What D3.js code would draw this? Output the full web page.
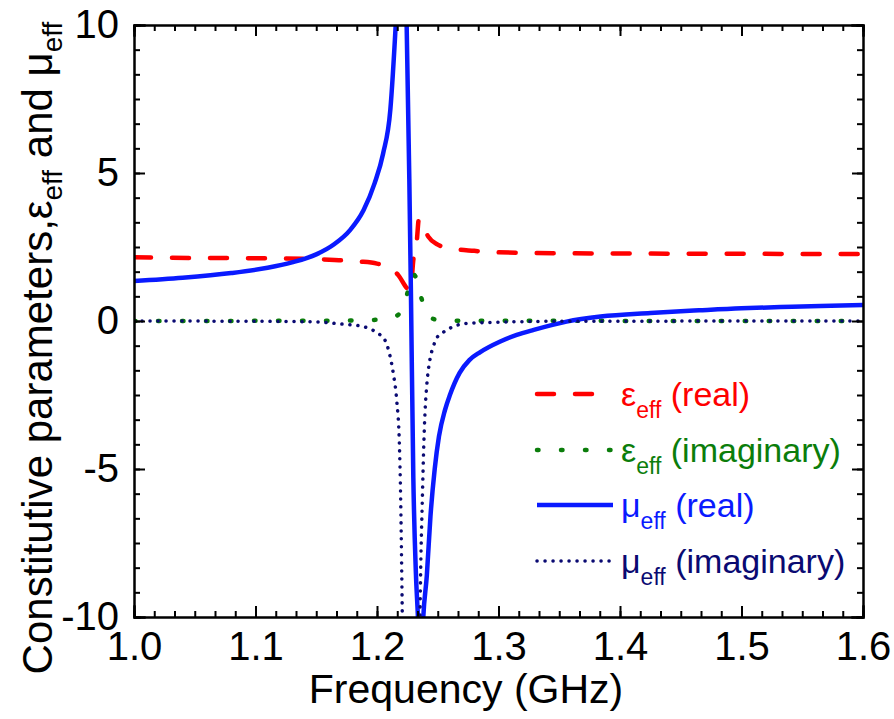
<!DOCTYPE html>
<html>
<head>
<meta charset="utf-8">
<script src="https://cdn.jsdelivr.net/npm/d3@7"></script>
<style>
  body { margin: 0; background: #fff; }
  svg { display: block; font-family: "Liberation Sans", Arial, sans-serif; }
</style>
</head>
<body>
<svg id="chart" width="894" height="719"></svg>
<script>
// values (frequency in GHz)
const muReF = [1.000, 1.040, 1.080, 1.110, 1.130, 1.150, 1.165, 1.178, 1.189, 1.198, 1.205, 1.211, 1.2154, 1.219, 1.2215, 1.2235, 1.2244, 1.2266, 1.2280, 1.2299, 1.2320, 1.2337, 1.2355, 1.2370, 1.2381, 1.2410, 1.2440, 1.2475, 1.2510, 1.2560, 1.2600, 1.2680, 1.2760, 1.2850, 1.3010, 1.3150, 1.3290, 1.3560, 1.3840, 1.4250, 1.4650, 1.5000, 1.5320, 1.5650, 1.6000];
const muRe  = [1.35, 1.46, 1.62, 1.80, 1.98, 2.25, 2.60, 3.08, 3.75, 4.65, 5.65, 7.15, 10.0, 13.0, 15.0, 12.5, 10.0, 4.8, 0.7, -5.3, -8.5, -10.0, -12.0, -11.0, -10.0, -8.6, -6.6, -5.0, -3.9, -3.0, -2.5, -1.75, -1.32, -1.05, -0.70, -0.47, -0.30, -0.02, 0.15, 0.27, 0.36, 0.43, 0.47, 0.51, 0.54];

const muImF = [1.000, 1.100, 1.150, 1.165, 1.178, 1.189, 1.195, 1.201, 1.2066, 1.2107, 1.2134, 1.2162, 1.2184, 1.2195, 1.2203, 1.2208, 1.2215, 1.2250, 1.2280, 1.2310, 1.2345, 1.2354, 1.2360, 1.2373, 1.2385, 1.2395, 1.2409, 1.2436, 1.2463, 1.2491, 1.2546, 1.2628, 1.2738, 1.3010, 1.3500, 1.6000];
const muIm  = [0, -0.01, -0.03, -0.08, -0.13, -0.19, -0.28, -0.42, -0.65, -1.18, -1.77, -2.67, -4.13, -6.05, -8.3, -9.9, -13, -25, -35, -25, -13, -9.9, -8.3, -6.05, -4.2, -3.1, -2.2, -1.3, -0.87, -0.58, -0.38, -0.19, -0.08, -0.04, -0.01, 0];

const epsReF = [1.000, 1.050, 1.100, 1.140, 1.165, 1.185, 1.200, 1.210, 1.2175, 1.2244, 1.2275, 1.2299, 1.2327, 1.2345, 1.2380, 1.2422, 1.2500, 1.2600, 1.2800, 1.3000, 1.3500, 1.4000, 1.5000, 1.6000];
const epsRe  = [2.15, 2.13, 2.12, 2.10, 2.06, 2.01, 1.94, 1.80, 1.55, 1.12, 1.0, 2.06, 2.68, 3.45, 3.20, 2.85, 2.58, 2.46, 2.37, 2.32, 2.29, 2.28, 2.27, 2.26];

const epsImF = [1.000, 1.150, 1.200, 1.2150, 1.2217, 1.2260, 1.2290, 1.2313, 1.2340, 1.2368, 1.2420, 1.2470, 1.2600, 1.6000];
const epsIm  = [0, 0.01, 0.04, 0.15, 0.48, 1.1, 1.6, 1.53, 1.15, 0.74, 0.25, 0.06, 0.01, 0];

const xTicks = [1.0, 1.1, 1.2, 1.3, 1.4, 1.5, 1.6];
const yTicks = [-10, -5, 0, 5, 10];

const series = [
  { f: epsReF, v: epsRe, color: "#ff0000", width: 4.5, dash: "17,21", cap: "round", sym: "\u03b5", kind: "(real)" },
  { f: epsImF, v: epsIm, color: "#0b7d0b", width: 4.5, dash: "1.5,22.5", cap: "round", sym: "\u03b5", kind: "(imaginary)" },
  { f: muReF, v: muRe, color: "#0a1aff", width: 4.5, dash: null, cap: "butt", sym: "\u03bc", kind: "(real)" },
  { f: muImF, v: muIm, color: "#0a0a72", width: 3.5, dash: "0.1,7.9", cap: "round", sym: "\u03bc", kind: "(imaginary)" }
];

const margin = { top: 25, right: 31, bottom: 102, left: 134 };
const width = 894 - margin.left - margin.right;
const height = 719 - margin.top - margin.bottom;

const svg = d3.select("#chart");
const g = svg.append("g").attr("transform", `translate(${margin.left},${margin.top})`);

const x = d3.scaleLinear().domain([1.0, 1.6]).range([0, width]);
const y = d3.scaleLinear().domain([-10, 10]).range([height, 0]);

g.append("clipPath").attr("id", "plotclip")
  .append("rect").attr("width", width).attr("height", height);

const line = d3.line().curve(d3.curveMonotoneX).x(d => x(d[0])).y(d => y(d[1]));

const plot = g.append("g").attr("clip-path", "url(#plotclip)");
series.forEach(s => {
  plot.append("path")
    .datum(s.f.map((f, i) => [f, s.v[i]]))
    .attr("fill", "none")
    .attr("stroke", s.color)
    .attr("stroke-width", s.width)
    .attr("stroke-linecap", s.cap)
    .attr("stroke-linejoin", "round")
    .attr("stroke-dasharray", s.dash)
    .attr("d", line);
});

// axes: ticks point inward on all four sides
const xMinor = d3.range(0, 37).map(i => 1.0 + i * 0.1 / 6);
const yMinor = d3.range(0, 25).map(i => -10 + i * 5 / 6);
const fmt = d => d3.format(".1f")(d);

function styleAxis(sel) {
  sel.select(".domain").attr("stroke", "#000").attr("stroke-width", 2);
  sel.selectAll(".tick line").attr("stroke", "#000").attr("stroke-width", 2);
  sel.selectAll("text").attr("font-size", 40).attr("fill", "#000")
    .attr("font-family", "'Liberation Sans', Arial, sans-serif");
}

g.append("g").attr("transform", `translate(0,${height})`)
  .call(d3.axisBottom(x).tickValues(xMinor).tickSize(-6).tickFormat(""))
  .call(styleAxis);
g.append("g").attr("transform", `translate(0,${height})`)
  .call(d3.axisBottom(x).tickValues(xTicks).tickSize(-11).tickPadding(15).tickFormat(fmt))
  .call(styleAxis);
g.append("g")
  .call(d3.axisTop(x).tickValues(xMinor).tickSize(-6).tickFormat(""))
  .call(styleAxis);
g.append("g")
  .call(d3.axisTop(x).tickValues(xTicks).tickSize(-11).tickFormat(""))
  .call(styleAxis);

g.append("g")
  .call(d3.axisLeft(y).tickValues(yMinor).tickSize(-6).tickFormat(""))
  .call(styleAxis);
g.append("g")
  .call(d3.axisLeft(y).tickValues(yTicks).tickSize(-11).tickPadding(15).tickFormat(d => String(d)))
  .call(styleAxis);
g.append("g").attr("transform", `translate(${width},0)`)
  .call(d3.axisRight(y).tickValues(yMinor).tickSize(-6).tickFormat(""))
  .call(styleAxis);
g.append("g").attr("transform", `translate(${width},0)`)
  .call(d3.axisRight(y).tickValues(yTicks).tickSize(-11).tickFormat(""))
  .call(styleAxis);

g.selectAll(".domain").attr("stroke-linecap", "square");

// axis titles
svg.append("text")
  .attr("x", 466).attr("y", 703)
  .attr("text-anchor", "middle")
  .attr("font-size", 41)
  .text("Frequency (GHz)");

const yTitle = svg.append("text")
  .attr("transform", "translate(52,348) rotate(-90)")
  .attr("text-anchor", "middle")
  .attr("font-size", 42);
yTitle.append("tspan").text("Constitutive parameters,\u03b5");
yTitle.append("tspan").attr("font-size", 28).attr("dy", 10).text("eff");
yTitle.append("tspan").attr("dy", -10).text(" and \u03bc");
yTitle.append("tspan").attr("font-size", 28).attr("dy", 10).text("eff");

// legend
const legendY = [394, 450, 505, 561];
series.forEach((s, i) => {
  const ly = legendY[i];
  svg.append("line")
    .attr("x1", 537).attr("x2", 613).attr("y1", ly).attr("y2", ly)
    .attr("stroke", s.color)
    .attr("stroke-width", s.width)
    .attr("stroke-linecap", s.cap)
    .attr("stroke-dasharray", s.dash);
  const t = svg.append("text")
    .attr("x", 621).attr("y", ly + 12)
    .attr("font-size", 34)
    .attr("fill", s.color);
  t.append("tspan").text(s.sym);
  t.append("tspan").attr("font-size", 23).attr("dy", 12).text("eff");
  t.append("tspan").attr("dy", -12).text(" " + s.kind);
});
</script>
</body>
</html>
